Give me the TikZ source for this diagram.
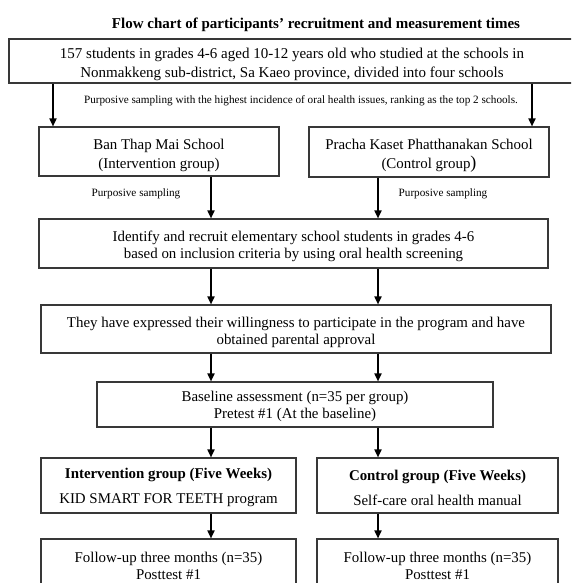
\documentclass[tikz,border=0pt]{standalone}
\usepackage{fontspec}
\setmainfont{Liberation Serif}
\usetikzlibrary{arrows.meta}
\newcommand{\tstrut}[1]{\rule{0pt}{#1}}
\begin{document}
\begin{tikzpicture}[x=1pt,y=-1pt,
  box/.style={draw=black!78,line width=1.1pt,inner sep=0pt,align=center,
    font=\fontsize{14.9}{17}\selectfont},
  arr/.style={line width=1.7pt,-{Triangle[length=8pt,width=7pt]}},
  small/.style={inner sep=0pt,font=\fontsize{11.2}{12}\selectfont}]
\useasboundingbox (0,0) rectangle (571,583);
\clip (0,0) rectangle (571,583);
\fill[white] (0,0) rectangle (571,583);
\node[inner sep=0pt,font=\bfseries\fontsize{15}{17}\selectfont] (title) at (316,25) {Flow chart of participants’ recruitment and measurement times};
\node[box,minimum width=566pt,minimum height=44pt,font=\fontsize{15}{19}\selectfont] (top) at (292,61)
  {\tstrut{16.3pt}157 students in grades 4-6 aged 10-12 years old who studied at the schools in\\Nonmakkeng sub-district, Sa Kaeo province, divided into four schools};
\node[small] (lab0) at (301,101) {Purposive sampling with the highest incidence of oral health issues, ranking as the top 2 schools.};
\node[box,minimum width=240pt,minimum height=49pt,font=\fontsize{14.9}{18.5}\selectfont] (schL) at (159,151.5) {\tstrut{18.3pt}Ban Thap Mai School\\(Intervention group)};
\node[box,minimum width=240pt,minimum height=50pt,font=\fontsize{14.9}{18.5}\selectfont] (schR) at (429,152) {\tstrut{18.3pt}Pracha Kaset Phatthanakan School\\(Control group{\fontsize{18}{18}\selectfont)}};
\node[small] (labL) at (136,194) {Purposive sampling};
\node[small] (labR) at (443,194) {Purposive sampling};
\node[box,minimum width=509pt,minimum height=49pt] (ident) at (293.5,243.5)
  {\tstrut{16.3pt}Identify and recruit elementary school students in grades 4-6\\based on inclusion criteria by using oral health screening};
\node[box,minimum width=510pt,minimum height=48pt] (will) at (296,329)
  {\tstrut{16.3pt}They have expressed their willingness to participate in the program and have\\obtained parental approval};
\node[box,minimum width=396pt,minimum height=45pt] (base) at (295,404.5)
  {\tstrut{14.4pt}Baseline assessment (n=35 per group)\\Pretest \#1 (At the baseline)};
\node[box,minimum width=255pt,minimum height=55pt,font=\fontsize{14.9}{25}\selectfont] (intL) at (168.5,485.5)
  {\tstrut{14.5pt}\textbf{Intervention group (Five Weeks)}\\KID SMART FOR TEETH program};
\node[box,minimum width=241pt,minimum height=55pt,font=\fontsize{14.9}{25}\selectfont] (intR) at (437.5,485.5)
  {\tstrut{14.5pt}\textbf{Control group (Five Weeks)}\\Self-care oral health manual};
\node[box,minimum width=255pt,minimum height=52pt] (folL) at (168.5,565)
  {\tstrut{12.5pt}Follow-up three months (n=35)\\Posttest \#1};
\node[box,minimum width=241pt,minimum height=52pt] (folR) at (437.5,565)
  {\tstrut{12.5pt}Follow-up three months (n=35)\\Posttest \#1};
\coordinate (el) at (53,0);
\coordinate (er) at (532,0);
\coordinate (cl) at (211,0);
\coordinate (cr) at (378,0);
\draw[arr] (top.south -| el) -- (schL.north -| el);
\draw[arr] (top.south -| er) -- (schR.north -| er);
\draw[arr] (schL.south -| cl) -- (ident.north -| cl);
\draw[arr] (schR.south -| cr) -- (ident.north -| cr);
\draw[arr] (ident.south -| cl) -- (will.north -| cl);
\draw[arr] (ident.south -| cr) -- (will.north -| cr);
\draw[arr] (will.south -| cl) -- (base.north -| cl);
\draw[arr] (will.south -| cr) -- (base.north -| cr);
\draw[arr] (base.south -| cl) -- (intL.north -| cl);
\draw[arr] (base.south -| cr) -- (intR.north -| cr);
\draw[arr] (intL.south -| cl) -- (folL.north -| cl);
\draw[arr] (intR.south -| cr) -- (folR.north -| cr);
\end{tikzpicture}
\end{document}
